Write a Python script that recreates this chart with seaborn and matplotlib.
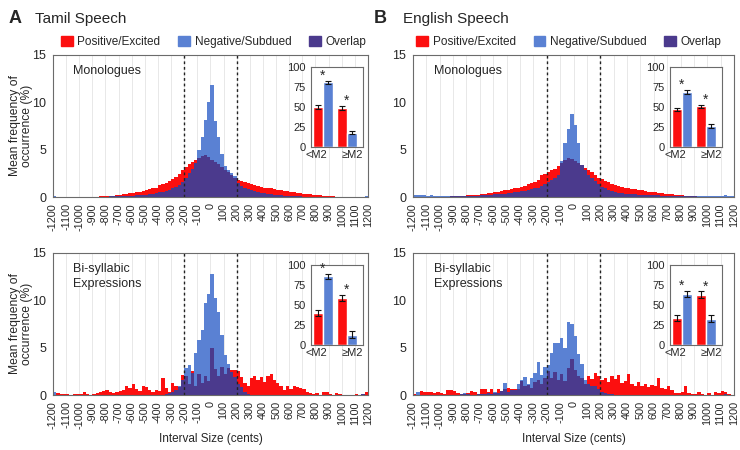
import numpy as np
import pandas as pd
import matplotlib
matplotlib.use('Agg')
import matplotlib.pyplot as plt
from matplotlib.patches import Patch
import seaborn as sns

# histogram bins (25 cents) from -1200 to 1200
edges = np.arange(-1200, 1201, 25)
centers = edges[:-1] + 12.5

# --- Tamil, monologues ---
tamil_mono_pos = [
    0, 0, 0, 0,   0, 0, 0, 0,   0, 0, 0.05, 0.05,   0.05, 0.05, 0.1, 0.1,
    0.1, 0.15, 0.15, 0.2,   0.25, 0.3, 0.35, 0.4,   0.45, 0.5, 0.55, 0.6,   0.7, 0.8, 0.9, 1.0,
    1.3, 1.4, 1.5, 1.7,   1.9, 2.1, 2.4, 2.8,   3.2, 3.5, 3.7, 3.9,   4.1, 4.3, 4.4, 4.2,
    3.9, 3.7, 3.5, 3.2,   2.9, 2.6, 2.3, 2.0,   1.8, 1.7, 1.6, 1.5,   1.4, 1.3, 1.2, 1.1,
    1.0, 0.95, 0.9, 0.85,   0.75, 0.7, 0.65, 0.6,   0.55, 0.5, 0.45, 0.4,   0.35, 0.3, 0.3, 0.25,
    0.25, 0.2, 0.15, 0.15,   0.1, 0.1, 0.05, 0.05,   0.05, 0.05, 0, 0.05,   0.05, 0, 0, 0,
]
tamil_mono_neg = [
    0.1, 0.05, 0.05, 0.05,   0.05, 0.05, 0.05, 0.05,   0.05, 0.05, 0.05, 0.05,   0.05, 0.05, 0.05, 0.05,
    0.05, 0.1, 0.1, 0.1,   0.1, 0.1, 0.15, 0.15,   0.15, 0.2, 0.2, 0.25,   0.25, 0.3, 0.35, 0.4,
    0.5, 0.55, 0.65, 0.75,   0.9, 1.1, 1.3, 1.6,   2.0, 2.5, 3.0, 3.6,   5.0, 6.3, 8.1, 10.0,
    11.8, 8.0, 6.3, 4.5,   3.3, 2.8, 2.5, 2.2,   1.5, 1.2, 1.0, 0.8,   0.7, 0.6, 0.5, 0.45,
    0.4, 0.35, 0.3, 0.25,   0.2, 0.2, 0.15, 0.15,   0.1, 0.1, 0.1, 0.1,   0.05, 0.05, 0.05, 0.05,
    0.05, 0.05, 0.05, 0.05,   0.05, 0.05, 0.05, 0.05,   0.05, 0.05, 0.05, 0.05,   0.05, 0.05, 0.05, 0.1,
]

# --- Tamil, bi-syllabic expressions ---
tamil_bi_pos = [
    0, 0.2, 0.1, 0.1,   0.1, 0.05, 0.1, 0.1,   0.1, 0.35, 0.15, 0.05,   0.1, 0.2, 0.3, 0.45,
    0.5, 0.3, 0.2, 0.3,   0.4, 0.5, 0.9, 0.7,   1.2, 0.6, 0.4, 1.0,   0.8, 0.5, 0.3, 0.5,
    0.4, 1.8, 0.7, 0.3,   1.3, 1.0, 0.8, 2.1,   2.0, 1.2, 2.5, 1.0,   2.2, 1.3, 2.0, 1.5,
    5.0, 2.7, 2.0, 3.0,   2.2, 2.8, 2.6, 2.6,   2.5, 1.9, 1.3, 0.9,   1.8, 2.0, 1.6, 1.9,
    1.4, 2.0, 2.2, 1.6,   1.3, 1.0, 0.5, 0.9,   0.6, 0.9, 0.8, 0.7,   0.6, 0.3, 0.2, 0.1,
    0.2, 0.05, 0.3, 0.3,   0.1, 0.05, 0.2, 0.1,   0, 0.05, 0, 0.05,   0.1, 0, 0.1, 0.3,
]
tamil_bi_neg = [
    0.3, 0, 0, 0,   0, 0, 0, 0,   0, 0, 0, 0,   0, 0, 0, 0,
    0, 0, 0, 0,   0, 0, 0, 0,   0, 0, 0, 0,   0, 0, 0, 0.05,
    0.05, 0.05, 0.1, 0.2,   0.3, 0.5, 1.0, 1.6,   2.8, 3.2, 2.3, 4.4,   5.8, 6.9, 9.7, 10.7,
    12.8, 10.2, 8.8, 6.3,   4.2, 3.3, 2.4, 1.9,   1.2, 0.8, 0.3, 0.1,   0.05, 0, 0, 0,
    0, 0, 0, 0,   0, 0, 0, 0,   0, 0, 0, 0,   0, 0, 0, 0,
    0, 0, 0, 0,   0, 0, 0, 0,   0, 0, 0, 0,   0, 0, 0.1, 0,
]

# --- English, monologues ---
english_mono_pos = [
    0, 0, 0, 0,   0, 0, 0, 0.05,   0.05, 0.05, 0.05, 0.1,   0.1, 0.1, 0.15, 0.15,
    0.2, 0.2, 0.25, 0.25,   0.3, 0.35, 0.4, 0.45,   0.5, 0.55, 0.6, 0.7,   0.75, 0.85, 0.95, 1.0,
    1.1, 1.2, 1.35, 1.5,   1.6, 1.8, 2.3, 2.4,   2.6, 2.8, 3.0, 3.3,   3.6, 3.9, 4.1, 4.0,
    3.8, 3.6, 3.4, 3.1,   2.8, 2.6, 2.3, 2.0,   1.9, 1.7, 1.6, 1.4,   1.3, 1.2, 1.05, 0.95,
    0.9, 0.85, 0.8, 0.75,   0.7, 0.65, 0.55, 0.5,   0.5, 0.45, 0.4, 0.35,   0.3, 0.3, 0.25, 0.2,
    0.2, 0.15, 0.1, 0.1,   0.1, 0.05, 0.05, 0.05,   0, 0, 0, 0,   0, 0, 0, 0,
]
english_mono_neg = [
    0.2, 0.2, 0.2, 0.2,   0.15, 0.2, 0.15, 0.15,   0.1, 0.1, 0.1, 0.1,   0.1, 0.1, 0.1, 0.1,
    0.15, 0.15, 0.15, 0.15,   0.2, 0.2, 0.2, 0.25,   0.3, 0.3, 0.35, 0.35,   0.4, 0.45, 0.5, 0.55,
    0.6, 0.65, 0.7, 0.8,   0.9, 1.0, 1.2, 1.4,   1.6, 1.8, 2.0, 2.3,   3.8, 5.7, 7.2, 8.8,
    7.6, 5.7, 3.4, 2.8,   2.3, 2.0, 1.7, 1.4,   1.1, 0.9, 0.7, 0.6,   0.5, 0.45, 0.4, 0.35,
    0.3, 0.3, 0.3, 0.25,   0.25, 0.25, 0.2, 0.2,   0.2, 0.2, 0.15, 0.15,   0.15, 0.15, 0.15, 0.15,
    0.1, 0.1, 0.1, 0.1,   0.1, 0.1, 0.1, 0.1,   0.1, 0.1, 0.1, 0.15,   0.15, 0.2, 0.15, 0.15,
]

# --- English, bi-syllabic expressions ---
english_bi_pos = [
    0.1, 0.05, 0.4, 0.3,   0.3, 0.3, 0.25, 0.3,   0.2, 0.1, 0.5, 0.5,   0.4, 0.2, 0.1, 0.1,
    0.2, 0.45, 0.3, 0.1,   0.6, 0.6, 0.3, 0.6,   0.2, 0.6, 0.4, 0.6,   0.7, 0.6, 0.6, 0.6,
    1.5, 0.9, 1.1, 0.7,   1.4, 1.6, 1.2, 1.8,   2.5, 1.8, 2.4, 1.6,   2.2, 1.5, 2.8, 3.8,
    2.6, 2.0, 1.8, 1.2,   2.0, 1.7, 2.3, 2.0,   1.6, 1.8, 1.4, 2.0,   1.7, 2.1, 1.3, 1.5,
    2.2, 1.2, 1.0, 1.4,   1.0, 1.2, 0.8, 1.1,   0.9, 1.8, 0.7, 0.6,   1.0, 0.5, 0.2, 0.2,
    0.3, 1.0, 0.2, 0.1,   0.1, 0.3, 0.1, 0.05,   0.2, 0.05, 0.3, 0.2,   0.4, 0.3, 0.1, 0.05,
]
english_bi_neg = [
    0.05, 0.3, 0.05, 0,   0, 0, 0.05, 0,   0.05, 0, 0, 0,   0, 0.05, 0.1, 0.25,
    0.1, 0.05, 0, 0.1,   0.15, 0.1, 0.2, 0.1,   0.3, 0.2, 0.4, 1.3,   0.3, 0.5, 0.5, 1.2,
    1.6, 1.9, 1.2, 1.8,   2.3, 3.5, 2.1, 3.0,   3.2, 4.4, 5.5, 5.5,   6.0, 5.0, 7.7, 7.5,
    6.2, 4.3, 3.3, 1.6,   1.2, 1.0, 0.9, 0.6,   0.3, 0.2, 0.1, 0.1,   0.05, 0, 0.05, 0,
    0, 0.05, 0, 0,   0, 0, 0.05, 0,   0, 0, 0, 0.05,   0, 0, 0, 0,
    0, 0.05, 0, 0,   0, 0, 0, 0,   0, 0, 0.05, 0,   0.05, 0.1, 0.05, 0,
]

# inset bar charts: share of intervals below / at-or-above a major 2nd (%)
inset_groups = ['<M2', '≥M2']
tamil_mono_bar = {'pos': [50, 49], 'neg': [81, 18], 'pos_err': [2.5, 2.5], 'neg_err': [2, 2]}
tamil_bi_bar = {'pos': [40, 59], 'neg': [86, 13], 'pos_err': [4, 4], 'neg_err': [3, 4]}
english_mono_bar = {'pos': [47, 51], 'neg': [69, 26], 'pos_err': [2, 2], 'neg_err': [2.5, 2.5]}
english_bi_bar = {'pos': [34, 63], 'neg': [64, 33], 'pos_err': [4, 4], 'neg_err': [4, 4]}

tick_vals = list(range(-1200, 1201, 100))

RED = '#fc0f0f'
BLUE = '#5a81d3'
PURPLE = '#4b3a8d'
SPINE = '#6b6b6b'

sns.set_theme(style='white')
plt.rcParams['font.family'] = ['Liberation Sans', 'DejaVu Sans']
plt.rcParams['axes.edgecolor'] = SPINE
plt.rcParams['axes.linewidth'] = 0.8

fig = plt.figure(figsize=(7.4, 4.5), dpi=100)


def draw_hist(rect, pos, neg, label, ylabel, xlabel):
    ax = fig.add_axes(rect)
    pos = np.array(pos, dtype=float)
    neg = np.array(neg, dtype=float)
    overlap = np.minimum(pos, neg)
    for vals, col in [(pos, RED), (neg, BLUE), (overlap, PURPLE)]:
        hd = pd.DataFrame({'cents': centers, 'freq': vals})
        sns.histplot(data=hd, x='cents', weights='freq', binwidth=25,
                     binrange=(-1200, 1200), element='step',
                     fill=True, color=col, alpha=1, linewidth=0, ax=ax)
    ax.set_xlim(-1200, 1200)
    ax.set_ylim(0, 15)
    ax.set_xticks(tick_vals)
    ax.set_xticklabels([str(t) for t in tick_vals], rotation=90, fontsize=7.8)
    ax.set_yticks([0, 5, 10, 15])
    ax.tick_params(axis='y', labelsize=9, length=3, width=0.7, color=SPINE, pad=2)
    ax.tick_params(axis='x', length=2.5, width=0.7, color=SPINE, pad=2, direction='out')
    ax.grid(axis='x', color='#e4e4e4', lw=0.6)
    ax.set_axisbelow(True)
    for x in (-200, 200):
        ax.axvline(x, color='#222222', ls=(0, (2, 2)), lw=1.0)
    ax.text(0.065, 0.93, label, transform=ax.transAxes, fontsize=9,
            va='top', ha='left', linespacing=1.3)
    ax.set_ylabel(ylabel, fontsize=8.7, linespacing=1.05)
    ax.yaxis.set_label_coords(-0.062, 0.5)
    ax.set_xlabel(xlabel, fontsize=8.5, labelpad=3)
    return ax


def draw_inset(rect, bar):
    iax = fig.add_axes(rect)
    df = pd.DataFrame({
        'group': inset_groups * 2,
        'cond': ['pos'] * 2 + ['neg'] * 2,
        'val': bar['pos'] + bar['neg'],
    })
    sns.barplot(data=df, x='group', y='val', hue='cond', palette=[RED, BLUE],
                saturation=1, width=0.8, legend=False, ax=iax)
    errs = bar['pos_err'] + bar['neg_err']
    for p, e in zip(iax.patches, errs):
        xc = p.get_x() + p.get_width() / 2
        iax.errorbar(xc, p.get_height(), yerr=e, fmt='none', ecolor='#111111',
                     elinewidth=0.8, capsize=2, capthick=0.8)
    for i in range(len(inset_groups)):
        top = max(bar['pos'][i] + bar['pos_err'][i], bar['neg'][i] + bar['neg_err'][i])
        iax.text(i, top + 6, '*', ha='center', va='center', fontsize=10)
    iax.set_xlim(-0.5, 1.67)
    iax.set_ylim(0, 100)
    iax.set_yticks([0, 25, 50, 75, 100])
    # category labels sit slightly spread apart, as in the original figure
    iax.set_xticks([-0.26, 1.21])
    iax.set_xticklabels(inset_groups)
    iax.set_xlabel('')
    iax.set_ylabel('')
    iax.tick_params(axis='y', labelsize=8, length=2.5, width=0.7, color=SPINE, pad=1.5)
    iax.tick_params(axis='x', labelsize=8, length=0, pad=2)
    iax.set_facecolor('white')
    return iax


ylab = 'Mean frequency of\noccurrence (%)'
xlab = 'Interval Size (cents)'

draw_hist([0.0716, 0.5622, 0.4257, 0.3156], tamil_mono_pos, tamil_mono_neg,
          'Monologues', ylab, '')
draw_hist([0.0716, 0.1222, 0.4257, 0.3156], tamil_bi_pos, tamil_bi_neg,
          'Bi-syllabic\nExpressions', ylab, xlab)
draw_hist([0.5581, 0.5622, 0.4338, 0.3156], english_mono_pos, english_mono_neg,
          'Monologues', '', '')
draw_hist([0.5581, 0.1222, 0.4338, 0.3156], english_bi_pos, english_bi_neg,
          'Bi-syllabic\nExpressions', '', xlab)

draw_inset([0.4203, 0.6733, 0.0703, 0.178], tamil_mono_bar)
draw_inset([0.4203, 0.2333, 0.0703, 0.178], tamil_bi_bar)
draw_inset([0.9054, 0.6733, 0.0703, 0.178], english_mono_bar)
draw_inset([0.9054, 0.2333, 0.0703, 0.178], english_bi_bar)

# panel titles
fig.text(0.011, 0.958, 'A', fontsize=13, fontweight='bold', va='center')
fig.text(0.047, 0.958, 'Tamil Speech', fontsize=11, va='center')
fig.text(0.505, 0.958, 'B', fontsize=13, fontweight='bold', va='center')
fig.text(0.545, 0.958, 'English Speech', fontsize=11, va='center')

handles = [Patch(color=RED, label='Positive/Excited'),
           Patch(color=BLUE, label='Negative/Subdued'),
           Patch(color=PURPLE, label='Overlap')]
for xc in (0.2885, 0.769):
    fig.legend(handles=handles, loc='center', bbox_to_anchor=(xc, 0.907), ncol=3,
               frameon=False, fontsize=8.5, handlelength=1.0, handleheight=1.0,
               handletextpad=0.4, columnspacing=1.5, borderaxespad=0)

plt.savefig('out.png', dpi=100)
